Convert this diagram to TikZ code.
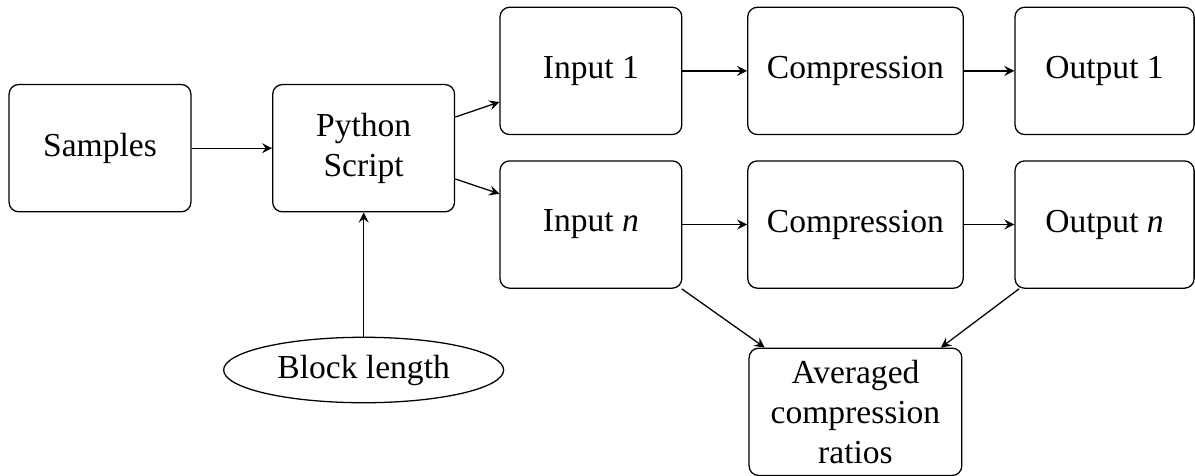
\documentclass[tikz,border=0pt]{standalone}
\usepackage{fontspec}
\setmainfont{Liberation Serif}
\usetikzlibrary{arrows, shapes, positioning, calc}

\begin{document}
\begin{tikzpicture}[
        box/.style={draw, rounded corners=3pt, minimum width=2cm, minimum height=1.4cm, inner sep=6pt, align=center, font=\fontsize{10.5pt}{12.6pt}\selectfont},
        param/.style={draw, ellipse, minimum width=3.08cm, minimum height=0.72cm, inner sep=1pt, font=\fontsize{10.5pt}{12.6pt}\selectfont},
        flow/.style={-stealth}
    ]
        \useasboundingbox (0,0) rectangle (13.145,-5.225);
        \node[box] (samples) at (1.10,-1.63) {Samples};
        \node[box] (script) at (4.00,-1.63) {Python\\Script};
        \node[param] (blocklen) at (4.00,-4.07) {Block length};
        \foreach \name/\lab/\y in {one/1/-0.78, n/\textit{n}/-2.47}
        {
            \node[box] (in\name) at (6.50,\y) {Input \lab};
            \node[box, minimum width=2.34cm] (comp\name) at (9.41,\y) {Compression};
            \node[box, minimum width=1.97cm] (out\name) at (12.15,\y) {Output \lab};
            \draw[flow] (in\name) -- (comp\name);
            \draw[flow] (comp\name) -- (out\name);
            \draw[flow] (script) -- (in\name);
        }
        \node[box, minimum width=2.34cm, inner sep=2pt] (avg) at (9.41,-4.53) {Averaged\\compression\\ratios};
        \draw[flow] (samples) -- (script);
        \draw[flow] (blocklen) -- (script);
        \draw[flow] (inn) -- (avg);
        \draw[flow] (outn) -- (avg);
    \end{tikzpicture}
\end{document}
